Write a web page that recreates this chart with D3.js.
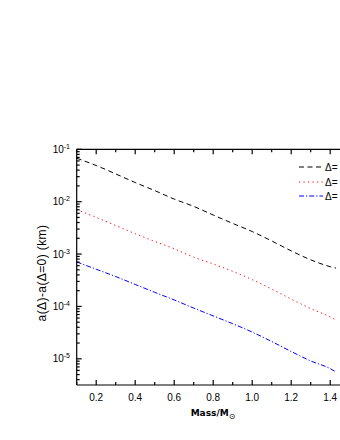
<meta charset="utf-8">
<script src="https://d3js.org/d3.v7.min.js"></script>
<body style="margin:0;background:#fff">
<svg id="chart" width="340" height="440"></svg>
<script>
// masses (solar units) and a(Delta)-a(Delta=0) in km
var mass = [0.1, 0.2, 0.3, 0.4, 0.5, 0.6, 0.7, 0.8, 0.9, 1.0, 1.1, 1.2, 1.3, 1.4, 1.43];
var blackDash = [0.0676, 0.0490, 0.0339, 0.0232, 0.0163, 0.0112, 0.00813, 0.00556, 0.00385, 0.00269, 0.00178, 0.00115, 7.76e-4, 5.75e-4, 5.4e-4];
var redDot = [0.00708, 0.00501, 0.00351, 0.00245, 0.00174, 0.00126, 8.7e-4, 6.46e-4, 4.68e-4, 3.24e-4, 2.14e-4, 1.38e-4, 9.1e-5, 6.3e-5, 5.5e-5];
var blueDashDot = [7.08e-4, 5.13e-4, 3.72e-4, 2.63e-4, 1.86e-4, 1.33e-4, 9.3e-5, 6.6e-5, 4.68e-5, 3.24e-5, 2.14e-5, 1.38e-5, 9.1e-6, 6.5e-6, 5.6e-6];
var legendNames = ["\u0394=", "\u0394=", "\u0394="];
var xTicks = [0.2, 0.4, 0.6, 0.8, 1.0, 1.2, 1.4];
var yExps = [-1, -2, -3, -4, -5];

var svg = d3.select("#chart");
var plotLeft = 76.7, plotTop = 149.3, plotBottom = 385;

var x = d3.scaleLinear().domain([0.1, 1.46]).range([plotLeft, plotLeft + 1.36 * 195]);
var y = d3.scaleLog().domain([Math.pow(10, -5.5), 0.1]).range([plotBottom, plotTop]);

var series = [
  { vals: blackDash, color: "#000", dash: "5,3.5" },
  { vals: redDot, color: "#ff0000", dash: "1.2,3.3" },
  { vals: blueDashDot, color: "#0000ff", dash: "5,2,1.2,2" }
];

var line = d3.line()
  .x(function(d) { return x(d[0]); })
  .y(function(d) { return y(d[1]); })
  .curve(d3.curveMonotoneX);

series.forEach(function(s) {
  svg.append("path")
    .attr("d", line(d3.zip(mass, s.vals)))
    .attr("fill", "none")
    .attr("stroke", s.color)
    .attr("stroke-width", 1)
    .attr("stroke-dasharray", s.dash);
});

// frame
var ax = svg.append("g").attr("stroke", "#000").attr("stroke-width", 1.2);
ax.append("line").attr("x1", plotLeft).attr("x2", 341).attr("y1", plotTop).attr("y2", plotTop);
ax.append("line").attr("x1", plotLeft).attr("x2", 341).attr("y1", plotBottom).attr("y2", plotBottom);
ax.append("line").attr("x1", plotLeft).attr("x2", plotLeft).attr("y1", plotTop).attr("y2", plotBottom);

// x ticks (major + minor), inside on bottom and top
var xMinor = d3.range(0.1, 1.46, 0.1).map(function(v) { return Math.round(v * 10) / 10; });
xMinor.forEach(function(v) {
  var len = xTicks.indexOf(v) >= 0 ? 5 : 3;
  ax.append("line").attr("x1", x(v)).attr("x2", x(v)).attr("y1", plotBottom).attr("y2", plotBottom - len);
  ax.append("line").attr("x1", x(v)).attr("x2", x(v)).attr("y1", plotTop).attr("y2", plotTop + len);
});

// y ticks (log major + minor), inside
for (var e = -6; e <= -1; e++) {
  for (var m = 1; m <= 9; m++) {
    var v = m * Math.pow(10, e);
    if (v < y.domain()[0] || v > 0.1 + 1e-12) continue;
    var len = m === 1 ? 5 : 3;
    ax.append("line").attr("x1", plotLeft).attr("x2", plotLeft + len).attr("y1", y(v)).attr("y2", y(v));
  }
}

var font = "'Liberation Sans', Arial, sans-serif";

svg.selectAll(".xl").data(xTicks).enter().append("text")
  .attr("x", function(d) { return x(d); })
  .attr("y", 401)
  .attr("text-anchor", "middle")
  .style("font-family", font).style("font-size", "10px")
  .text(function(d) { return d.toFixed(1); });

yExps.forEach(function(p) {
  var t = svg.append("text")
    .attr("x", 70).attr("y", y(Math.pow(10, p)) + 3.5)
    .attr("text-anchor", "end")
    .style("font-family", font).style("font-size", "10px");
  t.append("tspan").text("10");
  t.append("tspan").attr("dy", -4).style("font-size", "7px").text(String(p));
});

// axis titles
var xt = svg.append("text")
  .attr("x", 213).attr("y", 416)
  .attr("text-anchor", "middle")
  .style("font-family", "'DejaVu Sans', sans-serif").style("font-size", "9px").style("font-weight", "bold");
xt.append("tspan").text("Mass/M");
xt.append("tspan").attr("dy", 3).style("font-size", "8px").style("font-weight", "normal").text("\u2299");

svg.append("text")
  .attr("transform", "translate(46,273) rotate(-90)")
  .attr("text-anchor", "middle")
  .style("font-family", font).style("font-size", "12px")
  .style("letter-spacing", "0.4px")
  .text("a(\u0394)-a(\u0394=0) (km)");

// legend
var ly = [167, 182, 196];
series.forEach(function(s, i) {
  svg.append("line")
    .attr("x1", 299).attr("x2", 323).attr("y1", ly[i]).attr("y2", ly[i])
    .attr("stroke", s.color).attr("stroke-width", 1).attr("stroke-dasharray", s.dash);
  svg.append("text")
    .attr("x", 325).attr("y", ly[i] + 3.5)
    .style("font-family", font).style("font-size", "10px")
    .text(legendNames[i]);
});
</script>
</body>
